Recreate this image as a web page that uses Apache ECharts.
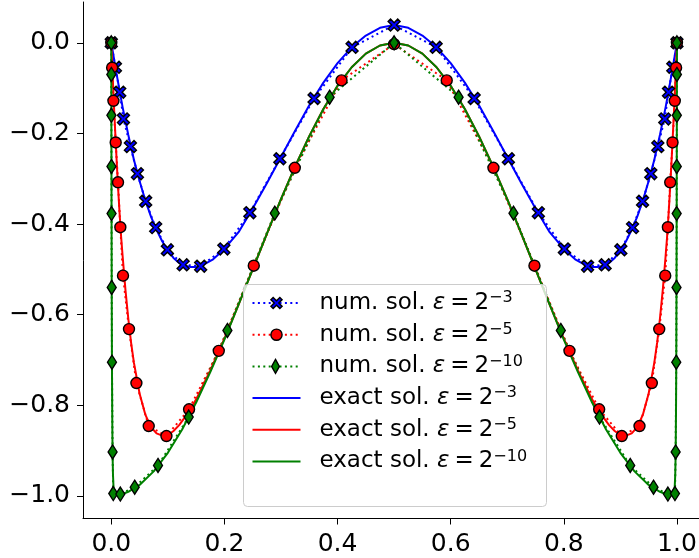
<!DOCTYPE html>
<html><head><meta charset="utf-8">
<script src="https://cdn.jsdelivr.net/npm/echarts@6/dist/echarts.min.js"></script>
<style>html,body{margin:0;padding:0;background:#fff}#c{width:699px;height:558px}</style>
</head><body><div id="c"></div>
<script>
// ---------- data ----------
const xTicks = [0.0, 0.2, 0.4, 0.6, 0.8, 1.0];
const yTicks = [-1.0, -0.8, -0.6, -0.4, -0.2, 0.0];

const legendNames = ['num3', 'num5', 'num10', 'ex3', 'ex5', 'ex10'];
const legendPrefix = ['num. sol. ', 'num. sol. ', 'num. sol. ', 'exact sol. ', 'exact sol. ', 'exact sol. '];
const legendExp = ['−3', '−5', '−10', '−3', '−5', '−10'];

// numerical solution, eps = 2^-3
const blueNumX = [0, 0.0073, 0.0149, 0.0215, 0.0338, 0.0462, 0.0608, 0.0785, 0.0992, 0.127, 0.158, 0.199, 0.245, 0.298, 0.3585, 0.4257, 0.5,
  0.5743, 0.6415, 0.702, 0.755, 0.801, 0.842, 0.873, 0.9008, 0.9215, 0.9392, 0.9538, 0.9662, 0.9785, 0.9851, 0.9927, 1];
const blueNumY = [0, -0.054, -0.109, -0.168, -0.229, -0.289, -0.35, -0.408, -0.457, -0.49, -0.493, -0.455, -0.375, -0.256, -0.123, -0.01, 0.039,
  -0.01, -0.123, -0.256, -0.375, -0.455, -0.493, -0.49, -0.457, -0.408, -0.35, -0.289, -0.229, -0.168, -0.109, -0.054, 0];

// numerical solution, eps = 2^-5
const redNumX = [0, 0.0015, 0.0038, 0.0078, 0.0119, 0.016, 0.0207, 0.0313, 0.0444, 0.0662, 0.0975, 0.1375, 0.19, 0.2519, 0.3244, 0.407, 0.5,
  0.593, 0.6756, 0.7481, 0.81, 0.8625, 0.9025, 0.9338, 0.9556, 0.9687, 0.9793, 0.984, 0.9881, 0.9922, 0.9962, 0.9985, 1];
const redNumY = [0, -0.055, -0.128, -0.22, -0.308, -0.407, -0.514, -0.632, -0.751, -0.846, -0.868, -0.809, -0.68, -0.492, -0.276, -0.083, -0.003,
  -0.083, -0.276, -0.492, -0.68, -0.809, -0.868, -0.846, -0.751, -0.632, -0.514, -0.407, -0.308, -0.22, -0.128, -0.055, 0];

// numerical solution, eps = 2^-10
const greenNumX = [0, 0.00007, 0.00017, 0.00031, 0.00047, 0.00076, 0.0012, 0.0023, 0.0035, 0.016, 0.0414, 0.0826, 0.1369, 0.2053, 0.289, 0.386, 0.5,
  0.614, 0.711, 0.7947, 0.8631, 0.9174, 0.9586, 0.984, 0.9965, 0.9977, 0.9988, 0.99924, 0.99953, 0.99969, 0.99983, 0.99993, 1];
const greenNumY = [0, -0.07, -0.16, -0.273, -0.377, -0.54, -0.705, -0.903, -0.995, -0.996, -0.981, -0.933, -0.826, -0.635, -0.376, -0.12, 0,
  -0.12, -0.376, -0.635, -0.826, -0.933, -0.981, -0.996, -0.995, -0.903, -0.705, -0.54, -0.377, -0.273, -0.16, -0.07, 0];

// exact solution, eps = 2^-3
const blueExX = [0, 0.005, 0.01, 0.015, 0.02, 0.03, 0.04, 0.05, 0.06, 0.07, 0.08, 0.09, 0.1, 0.11, 0.12, 0.13, 0.14, 0.15, 0.16, 0.18,
  0.2, 0.225, 0.25, 0.275, 0.3, 0.325, 0.35, 0.375, 0.4, 0.425, 0.45, 0.475, 0.5,
  0.525, 0.55, 0.575, 0.6, 0.625, 0.65, 0.675, 0.7, 0.725, 0.75, 0.775, 0.8, 0.82, 0.84, 0.85, 0.86, 0.87, 0.88, 0.89, 0.9,
  0.91, 0.92, 0.93, 0.94, 0.95, 0.96, 0.97, 0.98, 0.985, 0.99, 0.995, 1];
const blueExY = [0, -0.037, -0.073, -0.108, -0.142, -0.203, -0.258, -0.305, -0.347, -0.383, -0.413, -0.438, -0.459, -0.475, -0.486, -0.492, -0.495, -0.495, -0.492, -0.478,
  -0.455, -0.418, -0.366, -0.31, -0.252, -0.194, -0.138, -0.088, -0.045, -0.01, 0.016, 0.033, 0.039,
  0.033, 0.016, -0.01, -0.045, -0.088, -0.138, -0.194, -0.252, -0.31, -0.366, -0.418, -0.455, -0.478, -0.492, -0.495, -0.495, -0.492, -0.486, -0.475, -0.459,
  -0.438, -0.413, -0.383, -0.347, -0.305, -0.258, -0.203, -0.142, -0.108, -0.073, -0.037, 0];

// exact solution, eps = 2^-5
const redExX = [0, 0.002, 0.004, 0.006, 0.008, 0.01, 0.0125, 0.015, 0.0175, 0.02, 0.025, 0.03, 0.035, 0.04, 0.05, 0.06, 0.07, 0.08, 0.09, 0.1,
  0.11, 0.12, 0.13, 0.14, 0.15, 0.175, 0.2, 0.225, 0.25, 0.275, 0.3, 0.325, 0.35, 0.375, 0.4, 0.425, 0.45, 0.475, 0.5,
  0.525, 0.55, 0.575, 0.6, 0.625, 0.65, 0.675, 0.7, 0.725, 0.75, 0.775, 0.8, 0.825, 0.85, 0.86, 0.87, 0.88, 0.89, 0.9, 0.91,
  0.92, 0.93, 0.94, 0.95, 0.96, 0.965, 0.97, 0.975, 0.98, 0.9825, 0.985, 0.9875, 0.99, 0.992, 0.994, 0.996, 0.998, 1];
const redExY = [0, -0.06, -0.118, -0.172, -0.223, -0.273, -0.33, -0.383, -0.43, -0.47, -0.545, -0.608, -0.662, -0.706, -0.774, -0.82, -0.848, -0.862, -0.867, -0.866,
  -0.857, -0.844, -0.827, -0.809, -0.787, -0.723, -0.653, -0.578, -0.5, -0.422, -0.345, -0.273, -0.206, -0.146, -0.095, -0.054, -0.024, -0.006, 0,
  -0.006, -0.024, -0.054, -0.095, -0.146, -0.206, -0.273, -0.345, -0.422, -0.5, -0.578, -0.653, -0.723, -0.787, -0.809, -0.827, -0.844, -0.857, -0.866, -0.867,
  -0.862, -0.848, -0.82, -0.774, -0.706, -0.662, -0.608, -0.545, -0.47, -0.43, -0.383, -0.33, -0.273, -0.223, -0.172, -0.118, -0.06, 0];

// exact solution, eps = 2^-10
const greenExX = [0, 0.0001, 0.0002, 0.0004, 0.0006, 0.0008, 0.001, 0.0013, 0.0016, 0.002, 0.0025, 0.003, 0.004, 0.005, 0.007, 0.01, 0.02, 0.03, 0.05, 0.075,
  0.1, 0.125, 0.15, 0.175, 0.2, 0.225, 0.25, 0.275, 0.3, 0.325, 0.35, 0.375, 0.4, 0.425, 0.45, 0.475, 0.5,
  0.525, 0.55, 0.575, 0.6, 0.625, 0.65, 0.675, 0.7, 0.725, 0.75, 0.775, 0.8, 0.825, 0.85, 0.875, 0.9, 0.925, 0.95, 0.97, 0.98,
  0.99, 0.993, 0.995, 0.996, 0.997, 0.9975, 0.998, 0.9984, 0.9987, 0.999, 0.9992, 0.9994, 0.9996, 0.9998, 0.9999, 1];
const greenExY = [0, -0.097, -0.185, -0.335, -0.458, -0.559, -0.64, -0.735, -0.805, -0.87, -0.922, -0.953, -0.983, -0.994, -0.999, -0.999, -0.996, -0.991, -0.976, -0.946,
  -0.905, -0.854, -0.794, -0.727, -0.655, -0.578, -0.5, -0.422, -0.345, -0.273, -0.206, -0.146, -0.095, -0.054, -0.024, -0.006, 0,
  -0.006, -0.024, -0.054, -0.095, -0.146, -0.206, -0.273, -0.345, -0.422, -0.5, -0.578, -0.655, -0.727, -0.794, -0.854, -0.905, -0.946, -0.976, -0.991, -0.996,
  -0.999, -0.999, -0.994, -0.983, -0.953, -0.922, -0.87, -0.805, -0.735, -0.64, -0.559, -0.458, -0.335, -0.185, -0.097, 0];

// ---------- chart ----------
const FONT = 'DejaVu Sans';
const BLUE = '#0000ff', RED = '#ff0000', GREEN = '#008000';
const X_PATH = 'path://M0,2L2,0L5,3L8,0L10,2L7,5L10,8L8,10L5,7L2,10L0,8L3,5Z';
const THIN_DIAMOND = 'path://M5,0L10,9L5,18L0,9Z';
const LINE_ICON = 'path://M0,0L48,0L48,2L0,2Z';
const DOT = [2, 3.4];

function pairs(xs, ys) { return xs.map((x, i) => [x, ys[i]]); }
function tickFmt(v) { return (v < -1e-9 ? '−' : '') + Math.abs(v).toFixed(1); }

const LF = 23;
const richStyles = {
  g: { width: 14, fontSize: LF, fontFamily: FONT, lineHeight: 30 },
  t: { fontSize: LF, fontFamily: FONT, lineHeight: 30 },
  e: { fontSize: LF, fontFamily: FONT, fontStyle: 'italic', lineHeight: 30 },
  sp: { width: 5, fontSize: LF, fontFamily: FONT, lineHeight: 30 },
  sq: { width: 5, fontSize: LF, fontFamily: FONT, lineHeight: 30 },
  s: { fontSize: 16, fontFamily: FONT, lineHeight: 17, padding: [0, 0, 10, 0] }
};
function legendFmt(name) {
  const i = legendNames.indexOf(name);
  return '{g| }{t|' + legendPrefix[i] + '}{e|ε}{sp| }{t|=}{sq| }{t|2}{s|' + legendExp[i] + '}';
}

function numSeries(name, xs, ys, color, symbol, size) {
  return {
    name, type: 'line', data: pairs(xs, ys), symbol, symbolSize: size, showSymbol: true,
    itemStyle: { color, borderColor: '#000', borderWidth: 1.4 },
    lineStyle: { color, width: 2, type: DOT },
    emphasis: { disabled: true }, silent: true, animation: false, z: 2
  };
}
function exSeries(name, xs, ys, color) {
  return {
    name, type: 'line', data: pairs(xs, ys), symbol: 'none', showSymbol: false,
    itemStyle: { color }, lineStyle: { color, width: 2 },
    emphasis: { disabled: true }, silent: true, animation: false, z: 2
  };
}

const legendBase = {
  orient: 'vertical', left: 251.5, top: 290, itemGap: 5.7, itemWidth: 48, itemHeight: 14,
  padding: 0, selectedMode: false, formatter: legendFmt
};

const mainLegendData = [
  { name: 'num3', itemStyle: { borderColor: '#000', borderWidth: 1.4 }, lineStyle: { width: 2 } },
  { name: 'num5', itemStyle: { borderColor: '#000', borderWidth: 1.4 }, lineStyle: { width: 2 } },
  { name: 'num10', itemStyle: { opacity: 0, borderWidth: 0 }, lineStyle: { width: 2 } },
  { name: 'ex3', icon: LINE_ICON, itemStyle: { borderWidth: 0 } },
  { name: 'ex5', icon: LINE_ICON, itemStyle: { borderWidth: 0 } },
  { name: 'ex10', icon: LINE_ICON, itemStyle: { borderWidth: 0 } }
];
const overlayLegendData = [
  { name: 'num3', icon: 'rect', itemStyle: { opacity: 0, borderWidth: 0 } },
  { name: 'num5', icon: 'rect', itemStyle: { opacity: 0, borderWidth: 0 } },
  { name: 'num10', icon: THIN_DIAMOND, itemStyle: { color: GREEN, borderColor: '#000', borderWidth: 1.4 } },
  { name: 'ex3', icon: 'rect', itemStyle: { opacity: 0, borderWidth: 0 } },
  { name: 'ex5', icon: 'rect', itemStyle: { opacity: 0, borderWidth: 0 } },
  { name: 'ex10', icon: 'rect', itemStyle: { opacity: 0, borderWidth: 0 } }
];

const axisFont = { fontFamily: FONT, fontSize: 25, color: '#000' };

const option = {
  animation: false,
  backgroundColor: '#ffffff',
  grid: { left: 83, right: 0, top: 2, bottom: 39.5, outerBoundsMode: 'none', containLabel: false },
  xAxis: {
    type: 'value', min: -0.05, max: 1.039,
    splitLine: { show: false },
    axisLine: { show: true, onZero: false, lineStyle: { color: '#000', width: 1 } },
    axisTick: { show: true, length: 6, customValues: xTicks, lineStyle: { color: '#000', width: 1 } },
    axisLabel: Object.assign({ customValues: xTicks, formatter: tickFmt, margin: 13 }, axisFont)
  },
  yAxis: {
    type: 'value', min: -1.05, max: 0.09,
    splitLine: { show: false },
    axisLine: { show: true, onZero: false, lineStyle: { color: '#000', width: 1 } },
    axisTick: { show: true, length: 6, customValues: yTicks, lineStyle: { color: '#000', width: 1 } },
    axisLabel: Object.assign({ customValues: yTicks, formatter: tickFmt, margin: 13 }, axisFont)
  },
  graphic: {
    elements: [{
      type: 'rect', z: 3, silent: true,
      shape: { x: 243.5, y: 284.5, width: 303, height: 222, r: 4 },
      style: { fill: 'rgba(255,255,255,0.8)', stroke: '#cccccc', lineWidth: 1 }
    }]
  },
  legend: [
    Object.assign({}, legendBase, { z: 4, data: mainLegendData, textStyle: { color: '#000', fontFamily: FONT, fontSize: LF, rich: richStyles } }),
    Object.assign({}, legendBase, { z: 5, data: overlayLegendData, textStyle: { color: 'rgba(0,0,0,0)', fontFamily: FONT, fontSize: LF, rich: richStyles } })
  ],
  series: [
    numSeries('num3', blueNumX, blueNumY, BLUE, X_PATH, 12),
    numSeries('num5', redNumX, redNumY, RED, 'circle', 11),
    numSeries('num10', greenNumX, greenNumY, GREEN, 'diamond', [9, 14]),
    exSeries('ex3', blueExX, blueExY, BLUE),
    exSeries('ex5', redExX, redExY, RED),
    exSeries('ex10', greenExX, greenExY, GREEN)
  ]
};

const chart = echarts.init(document.getElementById('c'), null, { renderer: 'canvas' });
chart.setOption(option);
</script>
</body></html>
